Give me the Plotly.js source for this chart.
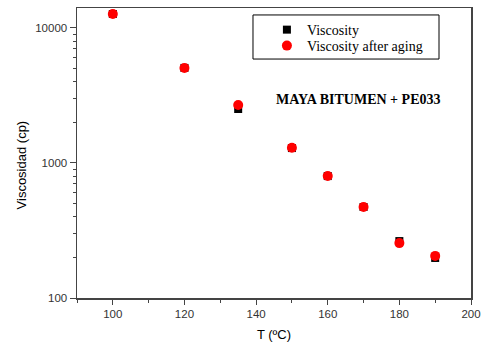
<!DOCTYPE html>
<html>
<head>
<meta charset="utf-8">
<script src="https://cdn.plot.ly/plotly-3.0.1.min.js"></script>
<style>html,body{margin:0;padding:0;background:#fff;}#chart{width:483px;height:349px;}</style>
</head>
<body>
<div id="chart"></div>
<script>
const temperature = [100, 120, 135, 150, 160, 170, 180, 190];
const viscosity = [12700, 5060, 2510, 1290, 800, 472, 264, 198];
const viscosityAged = [12700, 5060, 2690, 1295, 802, 472, 255, 205];
const seriesNames = ["Viscosity", "Viscosity after aging"];
const xTickValues = [100, 120, 140, 160, 180, 200];
const yTickValues = [100, 1000, 10000];
const yTickText = ["100", "1000", "10000"];

const traces = [
  {x: temperature, y: viscosity, name: seriesNames[0], type: "scatter", mode: "markers", legend: "legend",
   marker: {symbol: "square", size: 8, color: "#000000"}},
  {x: temperature, y: viscosityAged, name: seriesNames[1], type: "scatter", mode: "markers", legend: "legend2",
   marker: {symbol: "circle", size: 10, color: "#ff0000"}}
];

const axisLine = {showline: true, linecolor: "#444", linewidth: 1.5, mirror: true, zeroline: false, showgrid: false};
const legendFont = {family: "Liberation Serif", size: 14, color: "#000"};

const layout = {
  width: 483, height: 349,
  margin: {l: 77, r: 12, t: 8, b: 51},
  paper_bgcolor: "#fff", plot_bgcolor: "#fff",
  showlegend: true,
  legend: {x: 0.482, y: 0.924, xanchor: "left", yanchor: "middle", borderwidth: 0,
           bgcolor: "rgba(0,0,0,0)", font: legendFont},
  legend2: {x: 0.482, y: 0.869, xanchor: "left", yanchor: "middle", borderwidth: 0,
           bgcolor: "rgba(0,0,0,0)", font: legendFont},
  shapes: [{type: "rect", xref: "paper", yref: "paper", x0: 0.4467, x1: 0.9188, y0: 0.824, y1: 0.976,
            line: {color: "#000", width: 1}, fillcolor: "rgba(0,0,0,0)", layer: "below"}],
  xaxis: Object.assign({}, axisLine, {
    range: [90, 200], tickvals: xTickValues, ticks: "outside", ticklen: 5, tickcolor: "#444",
    minor: {dtick: 10, tick0: 90, ticks: "outside", ticklen: 3, tickcolor: "#444"},
    tickfont: {family: "Liberation Sans", size: 11.5, color: "#333"},
    title: {text: "T (ºC)", font: {family: "Liberation Sans", size: 13, color: "#000"}, standoff: 10}
  }),
  yaxis: Object.assign({}, axisLine, {
    type: "log", range: [2, 4.148], tickvals: yTickValues, ticktext: yTickText,
    ticks: "outside", ticklen: 6, tickcolor: "#444",
    minor: {dtick: "D1", ticks: "outside", ticklen: 3, tickcolor: "#444"},
    tickfont: {family: "Liberation Sans", size: 11.5, color: "#333"}
  }),
  annotations: [
    {text: "<b>MAYA BITUMEN + PE033</b>", xref: "paper", yref: "paper", x: 0.712, y: 0.683,
     xanchor: "center", yanchor: "middle", showarrow: false,
     font: {family: "Liberation Serif", size: 14, color: "#000"}},
    {text: "Viscosidad (cp)", xref: "paper", yref: "paper", x: -0.140, y: 0.46, textangle: -90,
     xanchor: "center", yanchor: "middle", showarrow: false,
     font: {family: "Liberation Sans", size: 13, color: "#000"}}
  ]
};

Plotly.newPlot("chart", traces, layout, {displayModeBar: false, staticPlot: true});
</script>
</body>
</html>
